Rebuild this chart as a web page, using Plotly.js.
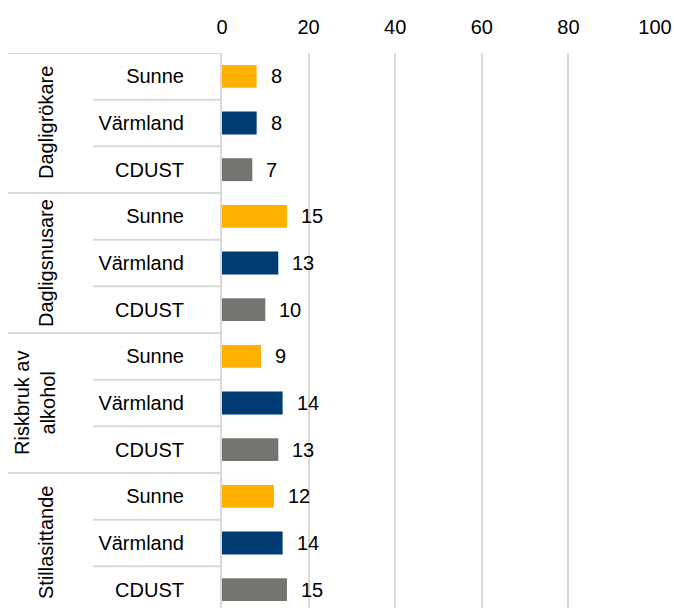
<!DOCTYPE html>
<html>
<head>
<meta charset="utf-8">
<script src="https://cdn.plot.ly/plotly-3.0.1.min.js"></script>
<style>html,body{margin:0;padding:0;background:#fff;}</style>
</head>
<body>
<div id="chart" style="width:674px;height:608px;"></div>
<script>
var groups = ["Dagligrökare", "Dagligsnusare", "Riskbruk av<br>alkohol", "Stillasittande"];
var regions = ["Sunne", "Värmland", "CDUST"];
var sunne = [8, 15, 9, 12];
var varmland = [8, 13, 14, 14];
var cdust = [7, 10, 13, 15];
var xTicks = [0, 20, 40, 60, 80, 100];

var colors = {"Sunne": "#FFB000", "Värmland": "#003B73", "CDUST": "#747470"};
var seriesVals = {"Sunne": sunne, "Värmland": varmland, "CDUST": cdust};

var FONT = "Liberation Sans, Arial, sans-serif";
var W = 674, ML = 222, MR = 19;
var PW = W - ML - MR;
function px2paper(px) { return (px - ML) / PW; }

var traces = [];
var tickvals = [], ticktext = [];
var annotations = [];
regions.forEach(function (r, ri) {
  var ys = [], xs = [];
  groups.forEach(function (g, gi) {
    var yi = gi * regions.length + ri;
    ys.push(yi);
    xs.push(seriesVals[r][gi]);
    annotations.push({
      x: seriesVals[r][gi], y: yi, xref: "x", yref: "y",
      text: String(seriesVals[r][gi]), showarrow: false,
      xanchor: "left", yanchor: "middle", xshift: 12,
      font: {family: FONT, size: 20, color: "#000"}
    });
  });
  traces.push({
    type: "bar", orientation: "h", name: r,
    x: xs, y: ys,
    marker: {color: colors[r]},
    hoverinfo: "x+name"
  });
});
groups.forEach(function (g, gi) {
  regions.forEach(function (r, ri) {
    tickvals.push(gi * regions.length + ri);
    ticktext.push(r);
  });
});

// group labels
groups.forEach(function (g, gi) {
  annotations.push({
    xref: "paper", yref: "y",
    x: px2paper(g.indexOf("<br>") >= 0 ? 35 : 46),
    y: gi * regions.length + (regions.length - 1) / 2,
    text: g, textangle: -90, showarrow: false,
    xanchor: "center", yanchor: "middle",
    font: {family: FONT, size: 20, color: "#000"}
  });
});

// separator lines
var shapes = [];
var nRows = groups.length * regions.length;
for (var b = 0; b <= nRows; b++) {
  var isGroup = (b % regions.length === 0);
  shapes.push({
    type: "line", xref: "paper", yref: "y",
    x0: px2paper(isGroup ? 8 : 93), x1: px2paper(221),
    y0: b - 0.5, y1: b - 0.5,
    line: {color: "#d9d9d9", width: 2}
  });
}

var rowPx = 560 / nRows;
var layout = {
  width: 674, height: 608,
  margin: {l: ML, r: MR, t: 53, b: 0, pad: 0},
  paper_bgcolor: "#fff", plot_bgcolor: "#fff",
  showlegend: false,
  bargap: 0.51,
  font: {family: FONT, size: 20, color: "#000"},
  xaxis: {
    side: "top", range: [0, 100], tickvals: xTicks,
    showgrid: true, gridcolor: "#d9d9d9", gridwidth: 2,
    zeroline: false, showline: false, ticks: "",
    ticklabelstandoff: 14,
    tickfont: {family: FONT, size: 20, color: "#000"},
    fixedrange: true
  },
  yaxis: {
    range: [nRows - 0.5 - 5 / rowPx, -0.5],
    tickvals: tickvals, ticktext: ticktext,
    showgrid: false, zeroline: false,
    showline: true, linecolor: "#d9d9d9", linewidth: 2,
    ticks: "", ticklabelstandoff: 32,
    tickfont: {family: FONT, size: 20, color: "#000"},
    fixedrange: true
  },
  shapes: shapes,
  annotations: annotations
};

Plotly.newPlot("chart", traces, layout, {displayModeBar: false, staticPlot: true});
</script>
</body>
</html>
